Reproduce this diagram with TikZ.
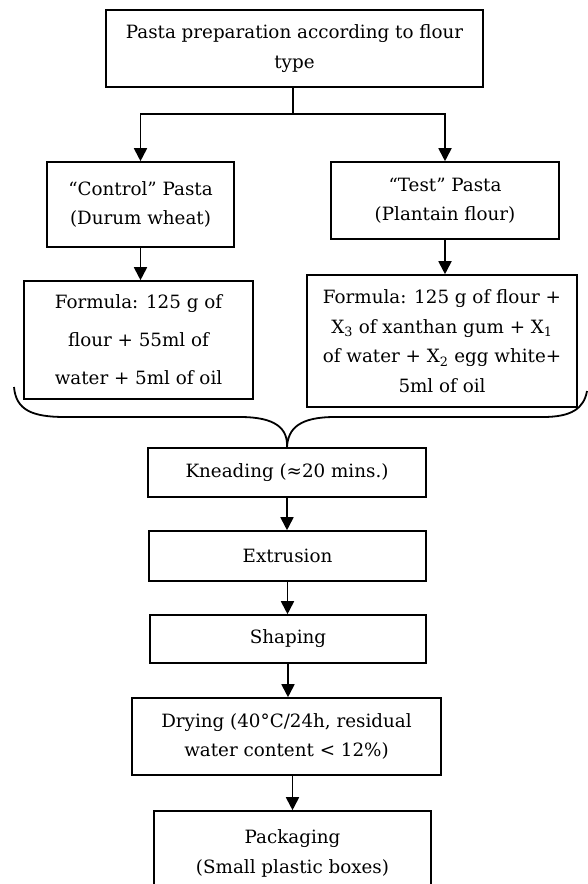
\documentclass[tikz,border=0pt]{standalone}
\usepackage{fontspec}
\setmainfont{DejaVu Serif}
\usepackage{tikz}
\usetikzlibrary{positioning,arrows.meta}

\begin{document}
\begin{tikzpicture}[x=1pt, y=-1pt, line width=1.8pt,
	every node/.style={font=\fontsize{18.3}{29.5}\selectfont, align=center, inner sep=0pt},
	box/.style={draw, rectangle, line width=1.6pt},
	flow/.style={-{Triangle[length=13pt, width=13pt]}, line width=1.8pt}]
	\useasboundingbox (0,0) rectangle (587,884);
	\node[box, minimum width=377pt, minimum height=77pt] (prep) at (294.5,48.5) {Pasta preparation according to flour\\type};
	\node[box, minimum width=187pt, minimum height=85pt] (ctrl) at (140.5,204.5) {“Control” Pasta\\(Durum wheat)};
	\node[box, minimum width=228pt, minimum height=77pt] (test) at (445,200.5) {“Test” Pasta\\(Plantain flour)};
	\node[box, minimum width=229pt, minimum height=118pt, font=\fontsize{18.3}{38}\selectfont] (formA) at (138.5,340) {Formula: 125 g of\\flour + 55ml of\\water + 5ml of oil};
	\node[box, minimum width=270pt, minimum height=132pt] (formB) at (442,341) {Formula: 125 g of flour +\\X\textsubscript{3} of xanthan gum + X\textsubscript{1}\\of water + X\textsubscript{2} egg white+\\5ml of oil};
	\node[box, minimum width=278pt, minimum height=49pt] (knead) at (287,472.5) {Kneading (≈20 mins.)};
	\node[box, minimum width=277pt, minimum height=50pt] (extr) at (287.5,556) {Extrusion};
	\node[box, minimum width=276pt, minimum height=48pt] (shape) at (288,639) {Shaping};
	\node[box, minimum width=309pt, minimum height=77pt] (dry) at (286.5,736.5) {Drying (40°C/24h, residual\\water content < 12\%)};
	\node[box, minimum width=277pt, minimum height=85pt] (pack) at (292.5,853.5) {Packaging\\(Small plastic boxes)};
	% split under the first box
	\coordinate (split) at (293,114);
	\draw (prep.south -| split) -- (split);
	\draw[flow] (split) -| (ctrl.north);
	\draw[flow] (split) -| (test.north);
	\draw[flow] (ctrl.south) -- (ctrl.south |- formA.north);
	\draw[flow] (test.south) -- (test.south |- formB.north);
	% brace joining both formulas
	\draw (14,387) .. controls (16,410) and (32,417) .. (65,417) -- (240,417)
		.. controls (275,417) and (288,428) .. (knead.north)
		.. controls (288,428) and (300,417) .. (335,417) -- (543,417)
		.. controls (572,417) and (584,408) .. (587,391);
	\draw[flow] (knead.south) -- (knead.south |- extr.north);
	\draw[flow] (extr.south) -- (extr.south |- shape.north);
	\draw[flow] (shape.south) -- (shape.south |- dry.north);
	\draw[flow] (dry.south -| pack) -- (pack.north);
\end{tikzpicture}
\end{document}
